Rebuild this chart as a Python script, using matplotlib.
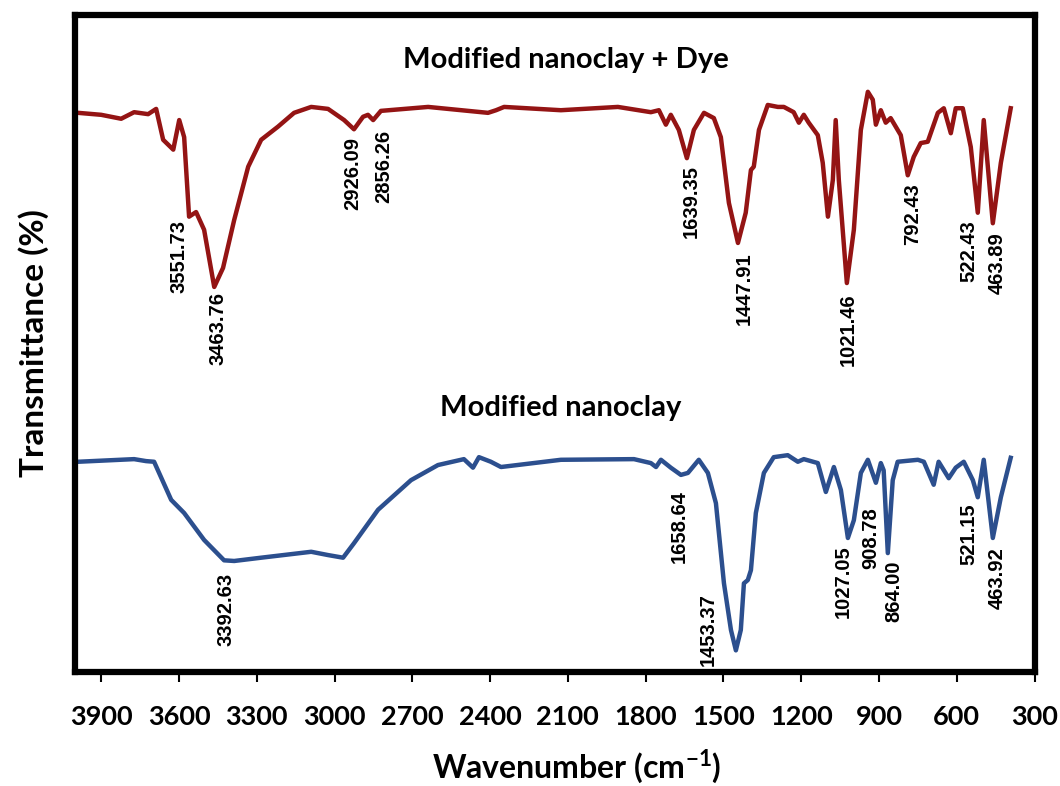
#!/usr/bin/env python3
'''
FTIR spectra: modified nanoclay before and after dye adsorption
'''
import numpy as np
import matplotlib
matplotlib.use('Agg')
import matplotlib.pyplot as plt

# ---- data ----
dye_wn = [3989, 3900, 3823, 3773, 3719, 3688, 3661, 3622, 3599, 3580, 3561, 3534,
          3503, 3464, 3430, 3387, 3333, 3283, 3218, 3156, 3090, 3025, 2963, 2925,
          2890, 2871, 2851, 2821, 2639, 2408, 2377, 2346, 2127, 1907, 1780, 1749,
          1722, 1703, 1672, 1641, 1614, 1575, 1537, 1510, 1479, 1444, 1414, 1394,
          1383, 1363, 1329, 1290, 1267, 1229, 1209, 1190, 1171, 1136, 1117, 1097,
          1078, 1067, 1055, 1024, 997, 970, 943, 924, 912, 893, 874, 855, 816, 789,
          766, 739, 712, 673, 650, 623, 604, 577, 546, 519, 496, 461, 430, 392]
dye_t = [85.1, 84.8, 84.2, 85.2, 84.9, 85.7, 81.0, 79.5, 84.0, 81.4, 69.3, 70.0,
         67.3, 58.6, 61.5, 68.8, 76.9, 81.0, 83.0, 85.1, 86.0, 85.7, 84.0, 82.6,
         84.5, 84.8, 84.0, 85.4, 86.0, 85.1, 85.5, 86.0, 85.5, 86.0, 85.2, 85.5,
         83.3, 84.8, 82.5, 78.2, 82.5, 85.1, 84.3, 81.4, 71.4, 65.3, 69.9, 76.4,
         76.9, 82.5, 86.3, 86.0, 86.0, 85.2, 83.6, 84.8, 83.6, 81.7, 77.5, 69.3,
         74.9, 84.0, 74.9, 59.2, 67.3, 82.5, 88.3, 87.1, 83.3, 85.5, 83.6, 84.3,
         81.7, 75.6, 78.4, 80.5, 80.7, 85.1, 85.8, 82.0, 85.8, 85.8, 79.9, 69.9,
         84.0, 68.3, 77.5, 85.8]

clay_wn = [3989, 3773, 3727, 3696, 3630, 3580, 3503, 3426, 3387, 3283, 3090, 3025,
           2967, 2925, 2832, 2705, 2601, 2501, 2466, 2443, 2397, 2358, 2127, 1845,
           1780, 1760, 1741, 1703, 1664, 1637, 1595, 1560, 1529, 1498, 1471, 1452,
           1433, 1421, 1406, 1394, 1375, 1344, 1306, 1252, 1213, 1190, 1136, 1105,
           1074, 1047, 1020, 997, 970, 943, 912, 893, 882, 866, 847, 828, 750, 727,
           689, 670, 631, 604, 573, 538, 519, 496, 461, 430, 392]
clay_t = [32.0, 32.4, 32.1, 32.0, 26.2, 24.2, 20.1, 17.0, 16.9, 17.4, 18.3, 17.8,
          17.4, 19.6, 24.7, 29.2, 31.5, 32.4, 31.1, 32.7, 32.0, 31.2, 32.3, 32.4,
          31.8, 31.2, 32.3, 31.1, 30.0, 30.3, 32.3, 30.3, 25.7, 13.5, 6.4, 3.3,
          6.4, 13.5, 14.0, 15.5, 24.2, 30.3, 32.7, 33.0, 32.0, 32.4, 31.8, 27.4,
          31.2, 27.7, 20.4, 23.1, 30.3, 32.3, 28.8, 31.8, 30.7, 18.1, 29.2, 32.0,
          32.3, 32.0, 28.5, 32.0, 29.5, 31.1, 32.0, 29.2, 26.6, 32.3, 20.4, 26.6,
          32.6]

dye_peaks = ['3551.73', '3463.76', '2926.09', '2856.26', '1639.35', '1447.91',
             '1021.46', '792.43', '522.43', '463.89']
clay_peaks = ['3392.63', '1658.64', '1453.37', '1027.05', '908.78', '864.00',
              '521.15', '463.92']

xticks = np.arange(3900, 299, -300)

# where the peak labels sit (x in cm-1, top of text in % T)
dye_label_pos = [(3599, 68.8), (3449, 57.8), (2929, 81.4), (2809, 82.5),
                 (1626, 77.2), (1421, 63.9), (1020, 57.7), (770, 74.4),
                 (554, 68.8), (442, 67.0)]
clay_label_pos = [(3418, 15.1), (1672, 27.7), (1560, 12.0), (1036, 19.3),
                  (932, 25.1), (843, 17.0), (554, 25.7), (442, 19.0)]

red = '#941414'
blue = '#2c4f8e'
calibri_like = ['Lato', 'DejaVu Sans']

fig = plt.figure(figsize=(10.6, 7.86), dpi=100)
ax = fig.add_axes([0.071, 0.145, 0.905, 0.836])

ax.plot(dye_wn, dye_t, '-', color=red, lw=3.2, solid_joinstyle='round')
ax.plot(clay_wn, clay_t, '-', color=blue, lw=3.2, solid_joinstyle='round')

for lab, (x, y) in zip(dye_peaks, dye_label_pos):
    ax.text(x, y, lab, rotation=90, ha='center', va='top', fontsize=14.5,
            fontweight='bold', family='Liberation Sans')
for lab, (x, y) in zip(clay_peaks, clay_label_pos):
    ax.text(x, y, lab, rotation=90, ha='center', va='top', fontsize=14.5,
            fontweight='bold', family='Liberation Sans')

ax.text(2107, 93.2, 'Modified nanoclay + Dye', ha='center', va='center',
        fontsize=21, fontweight='bold', family=calibri_like)
ax.text(2127, 40.2, 'Modified nanoclay', ha='center', va='center',
        fontsize=21, fontweight='bold', family=calibri_like)

ax.set_xlim(4000, 300)
ax.set_ylim(0, 100)
ax.set_xticks(xticks)
ax.set_xticklabels([str(v) for v in xticks], fontsize=19.5, fontweight='bold',
                   family=calibri_like)
ax.set_yticks([])
ax.tick_params(axis='x', direction='out', length=7, width=1.5, pad=17)

for sp in ax.spines.values():
    sp.set_linewidth(4.5)

ax.set_xlabel('Wavenumber (cm$^{\\mathregular{-1}}$)', fontsize=23,
              fontweight='bold', family=calibri_like)
ax.xaxis.set_label_coords(0.523, -0.115)
ax.set_ylabel('Transmittance (%)', fontsize=24, fontweight='bold',
              family=calibri_like, labelpad=19)

fig.savefig('out.png', dpi=100)
